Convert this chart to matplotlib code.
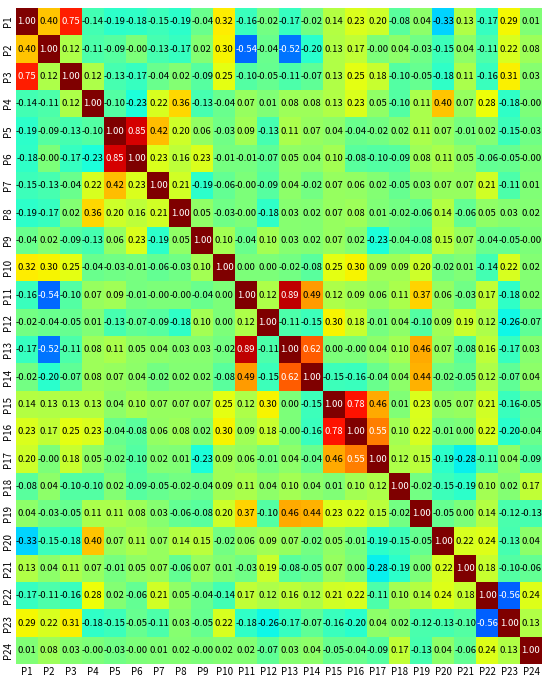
import numpy as np
import matplotlib
matplotlib.use("Agg")
import matplotlib.pyplot as plt

plt.rcParams['font.family'] = ['Noto Sans CJK SC', 'DejaVu Sans']

labels = [f"P{i}" for i in range(1, 25)]

r1 = [1.00, 0.40, 0.75, -0.14, -0.19, -0.18, -0.15, -0.19, -0.04, 0.32, -0.16, -0.02, -0.17, -0.02, 0.14, 0.23, 0.20, -0.08, 0.04, -0.33, 0.13, -0.17, 0.29, 0.01]
r2 = [0.40, 1.00, 0.12, -0.11, -0.09, -0.0, -0.13, -0.17, 0.02, 0.30, -0.54, -0.04, -0.52, -0.20, 0.13, 0.17, -0.0, 0.04, -0.03, -0.15, 0.04, -0.11, 0.22, 0.08]
r3 = [0.75, 0.12, 1.00, 0.12, -0.13, -0.17, -0.04, 0.02, -0.09, 0.25, -0.10, -0.05, -0.11, -0.07, 0.13, 0.25, 0.18, -0.10, -0.05, -0.18, 0.11, -0.16, 0.31, 0.03]
r4 = [-0.14, -0.11, 0.12, 1.00, -0.10, -0.23, 0.22, 0.36, -0.13, -0.04, 0.07, 0.01, 0.08, 0.08, 0.13, 0.23, 0.05, -0.10, 0.11, 0.40, 0.07, 0.28, -0.18, -0.0]
r5 = [-0.19, -0.09, -0.13, -0.10, 1.00, 0.85, 0.42, 0.20, 0.06, -0.03, 0.09, -0.13, 0.11, 0.07, 0.04, -0.04, -0.02, 0.02, 0.11, 0.07, -0.01, 0.02, -0.15, -0.03]
r6 = [-0.18, -0.0, -0.17, -0.23, 0.85, 1.00, 0.23, 0.16, 0.23, -0.01, -0.01, -0.07, 0.05, 0.04, 0.10, -0.08, -0.10, -0.09, 0.08, 0.11, 0.05, -0.06, -0.05, -0.0]
r7 = [-0.15, -0.13, -0.04, 0.22, 0.42, 0.23, 1.00, 0.21, -0.19, -0.06, -0.0, -0.09, 0.04, -0.02, 0.07, 0.06, 0.02, -0.05, 0.03, 0.07, 0.07, 0.21, -0.11, 0.01]
r8 = [-0.19, -0.17, 0.02, 0.36, 0.20, 0.16, 0.21, 1.00, 0.05, -0.03, -0.0, -0.18, 0.03, 0.02, 0.07, 0.08, 0.01, -0.02, -0.06, 0.14, -0.06, 0.05, 0.03, 0.02]
r9 = [-0.04, 0.02, -0.09, -0.13, 0.06, 0.23, -0.19, 0.05, 1.00, 0.10, -0.04, 0.10, 0.03, 0.02, 0.07, 0.02, -0.23, -0.04, -0.08, 0.15, 0.07, -0.04, -0.05, -0.0]
r10 = [0.32, 0.30, 0.25, -0.04, -0.03, -0.01, -0.06, -0.03, 0.10, 1.00, 0.00, 0.00, -0.02, -0.08, 0.25, 0.30, 0.09, 0.09, 0.20, -0.02, 0.01, -0.14, 0.22, 0.02]
r11 = [-0.16, -0.54, -0.10, 0.07, 0.09, -0.01, -0.0, -0.0, -0.04, 0.00, 1.00, 0.12, 0.89, 0.49, 0.12, 0.09, 0.06, 0.11, 0.37, 0.06, -0.03, 0.17, -0.18, 0.02]
r12 = [-0.02, -0.04, -0.05, 0.01, -0.13, -0.07, -0.09, -0.18, 0.10, 0.00, 0.12, 1.00, -0.11, -0.15, 0.30, 0.18, -0.01, 0.04, -0.10, 0.09, 0.19, 0.12, -0.26, -0.07]
r13 = [-0.17, -0.52, -0.11, 0.08, 0.11, 0.05, 0.04, 0.03, 0.03, -0.02, 0.89, -0.11, 1.00, 0.62, 0.00, -0.0, 0.04, 0.10, 0.46, 0.07, -0.08, 0.16, -0.17, 0.03]
r14 = [-0.02, -0.20, -0.07, 0.08, 0.07, 0.04, -0.02, 0.02, 0.02, -0.08, 0.49, -0.15, 0.62, 1.00, -0.15, -0.16, -0.04, 0.04, 0.44, -0.02, -0.05, 0.12, -0.07, 0.04]
r15 = [0.14, 0.13, 0.13, 0.13, 0.04, 0.10, 0.07, 0.07, 0.07, 0.25, 0.12, 0.30, 0.00, -0.15, 1.00, 0.78, 0.46, 0.01, 0.23, 0.05, 0.07, 0.21, -0.16, -0.05]
r16 = [0.23, 0.17, 0.25, 0.23, -0.04, -0.08, 0.06, 0.08, 0.02, 0.30, 0.09, 0.18, -0.0, -0.16, 0.78, 1.00, 0.55, 0.10, 0.22, -0.01, 0.00, 0.22, -0.20, -0.04]
r17 = [0.20, -0.0, 0.18, 0.05, -0.02, -0.10, 0.02, 0.01, -0.23, 0.09, 0.06, -0.01, 0.04, -0.04, 0.46, 0.55, 1.00, 0.12, 0.15, -0.19, -0.28, -0.11, 0.04, -0.09]
r18 = [-0.08, 0.04, -0.10, -0.10, 0.02, -0.09, -0.05, -0.02, -0.04, 0.09, 0.11, 0.04, 0.10, 0.04, 0.01, 0.10, 0.12, 1.00, -0.02, -0.15, -0.19, 0.10, 0.02, 0.17]
r19 = [0.04, -0.03, -0.05, 0.11, 0.11, 0.08, 0.03, -0.06, -0.08, 0.20, 0.37, -0.10, 0.46, 0.44, 0.23, 0.22, 0.15, -0.02, 1.00, -0.05, 0.00, 0.14, -0.12, -0.13]
r20 = [-0.33, -0.15, -0.18, 0.40, 0.07, 0.11, 0.07, 0.14, 0.15, -0.02, 0.06, 0.09, 0.07, -0.02, 0.05, -0.01, -0.19, -0.15, -0.05, 1.00, 0.22, 0.24, -0.13, 0.04]
r21 = [0.13, 0.04, 0.11, 0.07, -0.01, 0.05, 0.07, -0.06, 0.07, 0.01, -0.03, 0.19, -0.08, -0.05, 0.07, 0.00, -0.28, -0.19, 0.00, 0.22, 1.00, 0.18, -0.10, -0.06]
r22 = [-0.17, -0.11, -0.16, 0.28, 0.02, -0.06, 0.21, 0.05, -0.04, -0.14, 0.17, 0.12, 0.16, 0.12, 0.21, 0.22, -0.11, 0.10, 0.14, 0.24, 0.18, 1.00, -0.56, 0.24]
r23 = [0.29, 0.22, 0.31, -0.18, -0.15, -0.05, -0.11, 0.03, -0.05, 0.22, -0.18, -0.26, -0.17, -0.07, -0.16, -0.20, 0.04, 0.02, -0.12, -0.13, -0.10, -0.56, 1.00, 0.13]
r24 = [0.01, 0.08, 0.03, -0.0, -0.03, -0.0, 0.01, 0.02, -0.0, 0.02, 0.02, -0.07, 0.03, 0.04, -0.05, -0.04, -0.09, 0.17, -0.13, 0.04, -0.06, 0.24, 0.13, 1.00]

M = np.array([r1, r2, r3, r4, r5, r6, r7, r8, r9, r10, r11, r12, r13, r14, r15, r16,
              r17, r18, r19, r20, r21, r22, r23, r24])

fig = plt.figure(figsize=(5.5, 6.79), dpi=100)
ax = fig.add_axes([16/550, 1-664/679, 526/550, 656/679])
ax.imshow(M, cmap='jet', vmin=-1, vmax=1, aspect='auto', interpolation='nearest')

n = len(labels)
for i in range(n):
    for j in range(n):
        v = M[i, j]
        col = 'white' if abs(v) > 0.5 else 'black'
        ax.text(j, i, f"{v:.2f}", ha='center', va='center', fontsize=6.8, color=col)

ax.set_xticks(range(n))
ax.set_xticklabels(labels, fontsize=7)
ax.set_yticks(range(n))
ax.set_yticklabels(labels, fontsize=7, rotation=90, va='center')
ax.tick_params(length=0, pad=2)
for s in ax.spines.values():
    s.set_visible(False)

fig.savefig("out.png", dpi=100)
